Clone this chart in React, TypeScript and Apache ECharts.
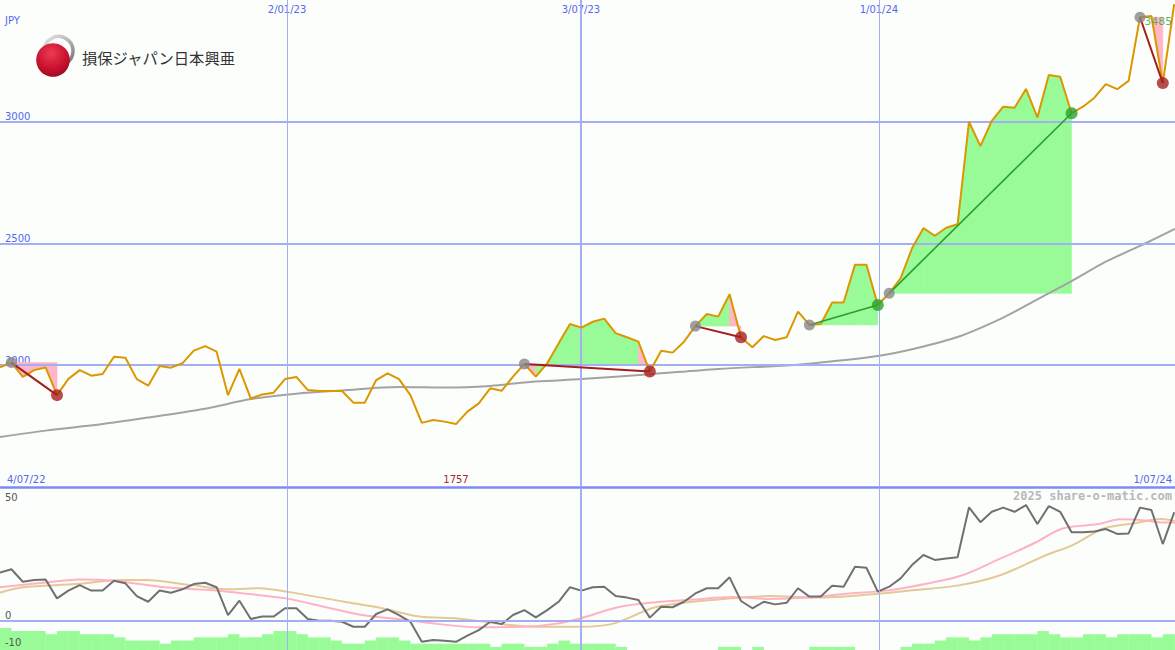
import React, { useEffect, useRef } from "react";
import * as echarts from "echarts";

// ---------------- data ----------------
const currencyLabel = "JPY";
const companyName = "損保ジャパン日本興亜";
const watermarkText = "2025 share-o-matic.com";

// weekly closes, 4/07/22 .. 1/07/24
const priceValues = [
  1990, 2010, 1951, 1979, 1990, 1876, 1943, 1979, 1956, 1963,
  2034, 2030, 1942, 1915, 1996, 1989, 2007, 2059, 2078, 2055,
  1876, 1984, 1862, 1879, 1886, 1942, 1951, 1897, 1893, 1893,
  1893, 1845, 1845, 1938, 1966, 1942, 1876, 1762, 1774, 1767,
  1757, 1808, 1842, 1904, 1894, 1952, 2004, 1952, 2007, 2089,
  2169, 2154, 2178, 2191, 2131, 2114, 2096, 1973, 2059, 2051,
  2096, 2160, 2210, 2199, 2291, 2114, 2073, 2119, 2103, 2114,
  2220, 2165, 2169, 2257, 2257, 2413, 2413, 2247, 2295, 2357,
  2480, 2563, 2532, 2565, 2579, 3001, 2901, 3005, 3063, 3059,
  3136, 3019, 3193, 3186, 3036, 3063, 3100, 3156, 3135, 3169,
  3431, 3436, 3160, 3485,
];

// long moving average (grey), read at these weeks
const maWeeks = [0, 4, 9, 13, 18, 22, 26, 30, 35, 39, 43, 47, 51, 57, 63, 69, 72, 77, 80, 84, 88, 91, 94, 97, 100, 103.07];
const maValues = [1704, 1730, 1757, 1784, 1820, 1860, 1882, 1895, 1909, 1907, 1914, 1932, 1942, 1962, 1984, 1998, 2010, 2037, 2065, 2115, 2195, 2270, 2345, 2425, 2490, 2560];

// lower panel oscillator (dark grey), weekly
const oscValues = [
  18.6, 19.9, 15.1, 15.8, 16.0, 8.7, 11.7, 13.8, 11.7, 11.7,
  15.5, 14.5, 9.6, 7.4, 11.7, 10.9, 12.2, 14.2, 14.7, 13.0,
  2.3, 7.8, 0.8, 1.7, 1.7, 4.9, 4.9, 0.8, 0.1, 0.1,
  -0.3, -2.2, -2.2, 2.7, 4.5, 2.3, -0.3, -8.0, -7.3, -7.6,
  -8.0, -5.6, -3.5, -0.3, -1.2, 2.3, 4.2, 1.4, 4.2, 7.4,
  13.0, 11.7, 13.0, 13.2, 9.6, 9.0, 8.1, 1.3, 5.5, 5.3,
  7.4, 10.6, 12.6, 12.6, 16.8, 7.7, 4.9, 7.4, 6.4, 7.0,
  12.6, 9.4, 9.4, 13.6, 13.2, 20.9, 20.5, 11.3, 13.2, 16.4,
  21.5, 25.4, 23.5, 24.0, 24.5, 43.7, 38.0, 42.0, 43.6, 42.0,
  44.6, 37.3, 44.2, 42.0, 34.1, 34.1, 34.4, 35.4, 33.5, 33.7,
  43.6, 42.7, 29.6, 41.8,
];

// smoothed oscillator lines (pink, tan), read at these weeks
const pinkWeeks = [0, 3.3, 7, 10, 14, 18.4, 21.8, 25.1, 28.4, 31.8, 35.2, 38.5, 41.8, 45.9, 48.5, 50.9, 54.2, 57.5, 60.9, 64.2, 67.5, 70.9, 74.2, 76.8, 79.2, 84.2, 87.5, 90.8, 93.2, 96.4, 98.2, 100.2, 101.5, 103.07];
const pinkValues = [13.0, 14.5, 16.0, 15.5, 13.2, 11.9, 10.4, 8.7, 5.5, 2.3, 0.6, -1.2, -2.4, -2.2, -1.2, 1.0, 5.3, 7.2, 8.3, 9.2, 8.5, 9.0, 10.5, 11.3, 12.6, 17.3, 23.5, 30.1, 35.6, 37.3, 39.1, 38.8, 38.0, 37.9];
const tanWeeks = [0, 2, 6.7, 10.7, 12.7, 16.8, 20.1, 22.8, 25.1, 30.2, 33.5, 36.8, 40.2, 43.5, 46.8, 50.9, 53.9, 57.5, 62.5, 67.5, 71.5, 76.8, 79.8, 84.2, 87.8, 91.8, 94.1, 96.8, 99.5, 101.8, 103.07];
const tanValues = [10.9, 13.0, 14.2, 15.8, 15.8, 13.8, 12.2, 12.6, 11.3, 7.4, 4.9, 1.7, 1.0, -0.9, -2.2, -2.2, -0.9, 5.3, 8.1, 9.6, 9.0, 10.4, 11.7, 13.8, 17.7, 25.4, 29.2, 35.6, 37.6, 39.2, 38.5];

// volume levels (green bars), weekly
const volumeValues = [
  7, 6, 6, 6, 5, 6, 6, 5, 5, 5,
  4, 3, 3, 3, 2, 3, 3, 4, 4, 4,
  5, 4, 4, 5, 6, 6, 5, 4, 4, 3,
  2, 2, 3, 4, 4, 3, 2, 2, 2, 2,
  2, 2, 2, 1, 2, 2, 1, 1, 2, 3,
  2, 2, 2, 2, 1, 0, 0, 0, 0, 0,
  0, 0, 0, 1, 1, 0, 1, 0, 0, 0,
  0, 1, 1, 1, 1, 0, 0, 0, 0, 1,
  2, 2, 3, 4, 4, 3, 4, 5, 5, 5,
  5, 6, 5, 4, 4, 5, 5, 4, 5, 5,
  5, 4, 5, 5,
];

// trend signals: start week -> end week
const signalStarts = [1, 46, 61, 71, 78, 100];
const signalEnds = [5, 57, 65, 77, 94, 102];

const dateLineWeeks = [25.18, 50.96, 77.1];
const dateLineLabels = ["2/01/23", "3/07/23", "1/01/24"];
const startDateLabel = "4/07/22";
const endDateLabel = "1/07/24";
const priceTicks = [2000, 2500, 3000];
const oscUpperTicks = [0, 50];
const oscLowerTicks = [-10];

// ---------------- layout / style ----------------
const X_MAX = 103.07;
const PRICE_MIN = 1498;
const PRICE_MAX = 3502;
const OSC_MIN = -11.15;
const OSC_MAX = 50.77;
const VOL_MAX = 51;

const BLUE = "#5468ee";
const GRID = "#a3aef3";
const SEP = "#7d8bf0";
const ORANGE = "#db9700";
const FILL_UP = "#98fb98";
const FILL_DOWN = "#ffb6c6";
const FONT = "DejaVu Sans";
const AX_GREY = "#555555";

export default function App() {
  const ref = useRef<HTMLDivElement>(null);

  useEffect(() => {
    const chart = echarts.init(ref.current as HTMLDivElement, null, { renderer: "svg" });

    const pricePoints = priceValues.map((v, i) => [i, v]);
    const minVal = Math.min(...priceValues);
    const minIdx = priceValues.indexOf(minVal);
    const lastIdx = priceValues.length - 1;

    const fillRows: number[][] = [];
    signalStarts.forEach((s, j) => {
      const e = signalEnds[j];
      const L = priceValues[s];
      for (let i = s; i < e; i++) {
        fillRows.push([i, priceValues[i], priceValues[i + 1], L, priceValues[i + 1] >= L ? 1 : 0]);
      }
    });

    const connectorSeries = signalStarts.map((s, j) => {
      const e = signalEnds[j];
      const up = priceValues[e] >= priceValues[s];
      return {
        type: "line",
        xAxisIndex: 0,
        yAxisIndex: 0,
        data: [[s, priceValues[s]], [e, priceValues[e]]],
        showSymbol: false,
        silent: true,
        z: 6,
        lineStyle: { color: up ? "#2a9d2a" : "#a51d1d", width: up ? 1.6 : 2 },
      };
    });

    const startMarkers = signalStarts.map((s) => [s, priceValues[s]]);
    const downEnds = signalEnds.filter((e, j) => priceValues[e] < priceValues[signalStarts[j]]).map((e) => [e, priceValues[e]]);
    const upEnds = signalEnds.filter((e, j) => priceValues[e] >= priceValues[signalStarts[j]]).map((e) => [e, priceValues[e]]);

    const findLabel = (v: number) => {
      const k = dateLineWeeks.findIndex((w) => Math.abs(w - v) < 0.01);
      return k >= 0 ? dateLineLabels[k] : "";
    };

    const vLineWidths = [1, 2, 1];
    const vLines = dateLineWeeks.map((w, k) => ({ xAxis: w, lineStyle: { color: GRID, width: vLineWidths[k], type: "solid" } }));

    const hiddenAxisParts = { axisLine: { show: false }, axisTick: { show: false }, splitLine: { show: false } };

    const option: any = {
      animation: false,
      backgroundColor: "#fcfefc",
      grid: [
        { left: 0, right: 0, top: 0, height: 487 },
        { left: 0, right: 0, top: 489, height: 161 },
      ],
      xAxis: [
        {
          gridIndex: 0, type: "value", min: 0, max: X_MAX, position: "top", ...hiddenAxisParts,
          axisLabel: {
            inside: true, customValues: dateLineWeeks, formatter: (v: number) => findLabel(v),
            color: BLUE, fontSize: 10, fontFamily: FONT, margin: 4, verticalAlign: "top",
          },
        },
        {
          gridIndex: 0, type: "value", min: 0, max: X_MAX, position: "bottom", ...hiddenAxisParts,
          axisLabel: {
            inside: true, customValues: [0, minIdx, X_MAX], showMinLabel: true, showMaxLabel: true,
            formatter: (v: number) => {
              if (v === 0) return "{l|" + startDateLabel + "}";
              if (v === minIdx) return "{m|" + minVal + "}";
              return "{r|" + endDateLabel + "}";
            },
            rich: {
              l: { color: BLUE, fontSize: 10, fontFamily: FONT, padding: [0, 0, 0, 7] },
              m: { color: "#a52a2a", fontSize: 10, fontFamily: FONT },
              r: { color: BLUE, fontSize: 10, fontFamily: FONT, padding: [0, 3, 0, 0] },
            },
            alignMinLabel: "left", alignMaxLabel: "right",
            verticalAlign: "bottom", margin: 3,
          },
        },
        { gridIndex: 1, type: "value", min: 0, max: X_MAX, show: false },
      ],
      yAxis: [
        {
          gridIndex: 0, type: "value", position: "left", min: PRICE_MIN, max: PRICE_MAX, ...hiddenAxisParts,
          axisLabel: {
            inside: true, customValues: priceTicks, formatter: (v: number) => String(v),
            color: BLUE, fontSize: 10, fontFamily: FONT,
            verticalAlign: "bottom", margin: 5,
          },
        },
        {
          gridIndex: 1, type: "value", position: "left", min: OSC_MIN, max: OSC_MAX, ...hiddenAxisParts, z: 10,
          axisLabel: {
            inside: true, customValues: oscUpperTicks, showMinLabel: true, showMaxLabel: true,
            formatter: (v: number) => (v === 50 ? "{t|" + v + "}" : "{b|" + v + "}"),
            rich: {
              t: { color: AX_GREY, fontSize: 10, fontFamily: FONT, padding: [12, 0, 0, 0] },
              b: { color: AX_GREY, fontSize: 10, fontFamily: FONT, padding: [0, 0, 12, 0] },
            },
            verticalAlign: "middle", margin: 5,
          },
        },
        { gridIndex: 1, type: "value", position: "right", min: 0, max: VOL_MAX, show: false },
        {
          gridIndex: 1, type: "value", position: "left", offset: 0, min: OSC_MIN, max: OSC_MAX, ...hiddenAxisParts, z: 10,
          axisLabel: {
            inside: true, customValues: oscLowerTicks, showMinLabel: true, showMaxLabel: true,
            formatter: (v: number) => String(v),
            color: AX_GREY, fontSize: 10, fontFamily: FONT, verticalAlign: "bottom", margin: 5,
          },
        },
      ],
      graphic: [
        {
          type: "text", left: 5, top: 15, z: 10,
          style: { text: currencyLabel, fill: BLUE, font: "10px '" + FONT + "'" },
        },
        {
          type: "circle", z: 10,
          shape: { cx: 58.5, cy: 51, r: 14.5 },
          style: {
            fill: "none", lineWidth: 3.5,
            stroke: { type: "linear", x: 0, y: 0, x2: 1, y2: 1, colorStops: [{ offset: 0, color: "#e4e4e4" }, { offset: 0.5, color: "#b4b4b4" }, { offset: 1, color: "#6e6e6e" }] },
          },
        },
        {
          type: "circle", z: 11,
          shape: { cx: 53, cy: 60, r: 16.8 },
          style: {
            fill: { type: "radial", x: 0.45, y: 0.3, r: 0.8, colorStops: [{ offset: 0, color: "#ee3b52" }, { offset: 0.6, color: "#c8102e" }, { offset: 1, color: "#8c0a1c" }] },
          },
        },
        {
          type: "text", x: 82, y: 57, z: 11,
          style: { text: companyName, fill: "#333333", font: "15.3px 'Noto Sans CJK JP'", verticalAlign: "middle" },
        },
        {
          type: "text", right: 3, top: 490, z: 10,
          style: { text: watermarkText, fill: "#b8b8b8", font: "bold 12px 'DejaVu Sans Mono'" },
        },
      ],
      series: [
        // horizontal grid lines + separator (beneath fills)
        {
          type: "line", xAxisIndex: 0, yAxisIndex: 0, data: [], silent: true, z: 1,
          markLine: {
            silent: true, symbol: ["none", "none"], label: { show: false }, animation: false,
            data: [
              ...priceTicks.map((t) => ({ yAxis: t, lineStyle: { color: GRID, width: 2, type: "solid" } })),
              { yAxis: PRICE_MIN, lineStyle: { color: SEP, width: 2.5, type: "solid" } },
            ],
          },
        },
        // trend fills
        {
          type: "custom", xAxisIndex: 0, yAxisIndex: 0, z: 2, silent: true,
          data: fillRows,
          encode: { x: 0, y: [1, 2, 3] },
          renderItem: (params: any, api: any) => {
            const i = api.value(0);
            const a = api.value(1);
            const b = api.value(2);
            const L = api.value(3);
            const up = api.value(4);
            const col = up ? FILL_UP : FILL_DOWN;
            return {
              type: "polygon",
              shape: { points: [api.coord([i, a]), api.coord([i + 1, b]), api.coord([i + 1, L]), api.coord([i, L])] },
              style: { fill: col, stroke: col, lineWidth: 0.6 },
            };
          },
        },
        // vertical date lines (main)
        {
          type: "line", xAxisIndex: 0, yAxisIndex: 0, data: [], silent: true, z: 3,
          markLine: { silent: true, symbol: ["none", "none"], label: { show: false }, animation: false, data: vLines },
        },
        // moving average
        {
          type: "line", xAxisIndex: 0, yAxisIndex: 0, z: 4, silent: true,
          data: maWeeks.map((w, k) => [w, maValues[k]]),
          smooth: 0.3, showSymbol: false,
          lineStyle: { color: "#a3a3a3", width: 2 },
        },
        // price
        {
          type: "line", xAxisIndex: 0, yAxisIndex: 0, z: 5, silent: true,
          data: pricePoints, showSymbol: false,
          lineStyle: { color: ORANGE, width: 2 },
        },
        ...connectorSeries,
        {
          type: "scatter", xAxisIndex: 0, yAxisIndex: 0, z: 7, silent: true,
          data: startMarkers, symbolSize: 11, itemStyle: { color: "#878787" },
        },
        {
          type: "scatter", xAxisIndex: 0, yAxisIndex: 0, z: 7, silent: true,
          data: downEnds, symbolSize: 12, itemStyle: { color: "#a82020" },
        },
        {
          type: "scatter", xAxisIndex: 0, yAxisIndex: 0, z: 7, silent: true,
          data: upEnds, symbolSize: 12, itemStyle: { color: "#2aa22a" },
        },
        // last value label
        {
          type: "scatter", xAxisIndex: 0, yAxisIndex: 0, z: 8, silent: true,
          data: [[lastIdx, priceValues[lastIdx]]], symbolSize: 0,
          label: {
            show: true, position: "left", distance: 2, offset: [0, 17],
            formatter: () => String(priceValues[lastIdx]),
            color: "#36a336", fontSize: 11, fontFamily: FONT,
          },
        },
        // ---- lower panel ----
        {
          type: "bar", xAxisIndex: 2, yAxisIndex: 2, z: 1, silent: true,
          data: volumeValues.map((v, i) => [i + 0.5, v]),
          barWidth: 11.6, itemStyle: { color: FILL_UP },
        },
        {
          type: "line", xAxisIndex: 2, yAxisIndex: 1, data: [], silent: true, z: 2,
          markLine: {
            silent: true, symbol: ["none", "none"], label: { show: false }, animation: false,
            data: [...vLines, { yAxis: 0, lineStyle: { color: GRID, width: 2, type: "solid" } }],
          },
        },
        {
          type: "line", xAxisIndex: 2, yAxisIndex: 1, z: 3, silent: true,
          data: tanWeeks.map((w, k) => [w, tanValues[k]]),
          smooth: 0.3, showSymbol: false, lineStyle: { color: "#e4c995", width: 2 },
        },
        {
          type: "line", xAxisIndex: 2, yAxisIndex: 1, z: 3, silent: true,
          data: pinkWeeks.map((w, k) => [w, pinkValues[k]]),
          smooth: 0.3, showSymbol: false, lineStyle: { color: "#ffb2c4", width: 2 },
        },
        {
          type: "line", xAxisIndex: 2, yAxisIndex: 1, z: 4, silent: true,
          data: oscValues.map((v, i) => [i, v]),
          showSymbol: false, lineStyle: { color: "#707070", width: 2 },
        },
      ],
    };

    chart.setOption(option);
    return () => chart.dispose();
  }, []);

  return (
    <div
      ref={ref}
      style={{ position: "fixed", left: 0, top: 0, width: 1175, height: 650 }}
    />
  );
}
